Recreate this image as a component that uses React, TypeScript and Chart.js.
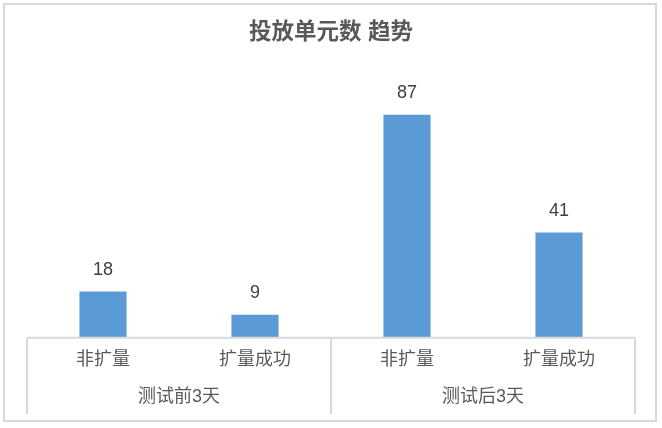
import React, { useEffect, useRef } from 'react';
import { Chart, registerables, ChartItem, Plugin } from 'chart.js';

Chart.register(...registerables);

const chartTitle = '投放单元数 趋势';
const subLabels = ['非扩量', '扩量成功', '非扩量', '扩量成功'];
const groupLabels = ['测试前3天', '测试后3天'];
const groupSizes = [2, 2];
const values = [18, 9, 87, 41];

const FONT = '"Liberation Sans", "Noto Sans CJK SC", sans-serif';

// draws title, value labels and the two-level category axis
const excelLook: Plugin<'bar'> = {
  id: 'excelLook',
  afterDraw(chart) {
    const { ctx, chartArea } = chart;
    const x = chart.scales.x;
    const meta = chart.getDatasetMeta(0);
    const half = (x.getPixelForValue(1) - x.getPixelForValue(0)) / 2;
    const left = x.getPixelForValue(0) - half;
    const base = chartArea.bottom;

    ctx.save();

    // title
    ctx.fillStyle = '#595959';
    ctx.font = `bold 22.5px ${FONT}`;
    ctx.textAlign = 'center';
    ctx.textBaseline = 'middle';
    ctx.fillText(chartTitle, chart.width / 2, 33);

    // value labels
    ctx.fillStyle = '#404040';
    ctx.font = `18px ${FONT}`;
    meta.data.forEach((bar, i) => {
      ctx.fillText(String(values[i]), bar.x, bar.y - 21.5);
    });

    // axis line + separators
    ctx.strokeStyle = '#d9d9d9';
    ctx.lineWidth = 2;
    ctx.beginPath();
    ctx.moveTo(left, base);
    ctx.lineTo(left + half * 2 * subLabels.length, base);
    let idx = 0;
    const edges = [0];
    groupSizes.forEach((n) => {
      idx += n;
      edges.push(idx);
    });
    edges.forEach((e) => {
      const px = left + half * 2 * e;
      ctx.moveTo(px, base);
      ctx.lineTo(px, 414);
    });
    ctx.stroke();

    // category labels
    ctx.fillStyle = '#595959';
    ctx.font = `18px ${FONT}`;
    subLabels.forEach((lab, i) => {
      ctx.fillText(lab, x.getPixelForValue(i), 360);
    });
    groupLabels.forEach((lab, g) => {
      const cx = left + half * (edges[g] + edges[g + 1]);
      ctx.fillText(lab, cx, 397);
    });

    ctx.restore();
  }
};

const App = () => {
  const chartRef = useRef<HTMLCanvasElement | null>(null);
  const myChartRef = useRef<Chart | null>(null);

  useEffect(() => {
    const ctx = chartRef.current!.getContext('2d') as ChartItem;
    myChartRef.current = new Chart(ctx, {
      type: 'bar',
      data: {
        labels: subLabels,
        datasets: [
          {
            data: values,
            backgroundColor: '#5b9bd5',
            borderWidth: 0,
            barPercentage: 1,
            categoryPercentage: 0.31
          }
        ]
      },
      options: {
        responsive: false,
        animation: false,
        layout: {
          padding: { left: 27, right: 27, top: 81.4, bottom: 90.3 }
        },
        plugins: {
          legend: { display: false },
          tooltip: { enabled: false },
          title: { display: false }
        },
        scales: {
          x: { display: false },
          y: { display: false, min: 0, max: 100 }
        }
      },
      plugins: [excelLook]
    });

    return () => {
      if (myChartRef.current) myChartRef.current.destroy();
    };
  }, []);

  return (
    <div style={{ position: 'absolute', left: 0, top: 0, width: 662, height: 428, background: '#fff' }}>
      <div
        style={{
          position: 'absolute',
          left: 3,
          top: 3,
          width: 650,
          height: 415,
          border: '2px solid #d9d9d9'
        }}
      />
      <canvas ref={chartRef} width={662} height={428} style={{ position: 'absolute', left: 0, top: 0 }} />
    </div>
  );
};

export default App;
